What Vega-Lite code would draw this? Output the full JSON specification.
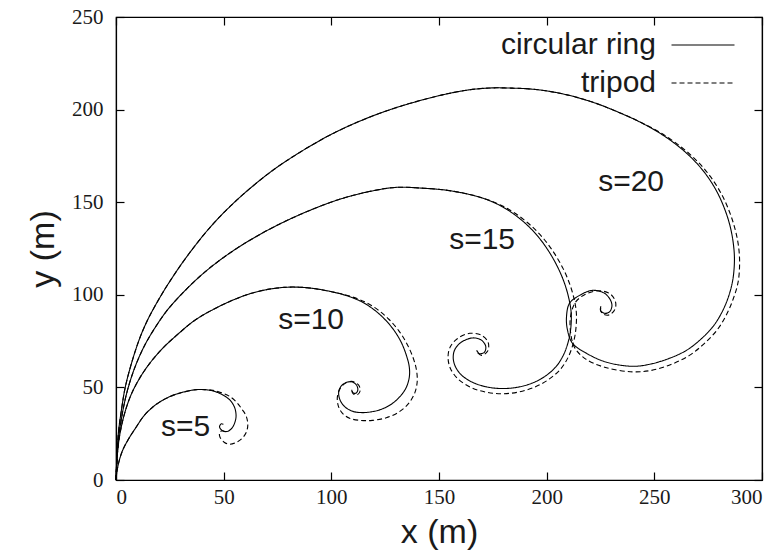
{
  "$schema": "https://vega.github.io/schema/vega-lite/v6.json",
  "width": 646,
  "height": 463,
  "autosize": {"type": "none"},
  "padding": {"left": 116, "top": 17, "right": 19, "bottom": 72},
  "background": "white",
  "config": {
    "view": {"stroke": "#000", "strokeWidth": 1.2},
    "axis": {
      "grid": false,
      "domainColor": "#000",
      "domainWidth": 1.2,
      "tickColor": "#000",
      "tickWidth": 1.2,
      "labelFont": "Liberation Serif",
      "labelFontSize": 21,
      "labelColor": "#1a1a1a",
      "titleFont": "Liberation Sans",
      "titleFontSize": 34,
      "titleFontWeight": "normal",
      "titleColor": "#1a1a1a"
    }
  },
  "resolve": {"axis": {"x": "independent", "y": "independent"}},
  "layer": [
    {
      "data": {
        "values": [
          {"curve": "s20r", "type": "circular ring", "x": 0, "y": 0},
          {"curve": "s20r", "type": "circular ring", "x": 1.0, "y": 24.1},
          {"curve": "s20r", "type": "circular ring", "x": 2.5, "y": 37.6},
          {"curve": "s20r", "type": "circular ring", "x": 4.3, "y": 50.1},
          {"curve": "s20r", "type": "circular ring", "x": 7.6, "y": 64.6},
          {"curve": "s20r", "type": "circular ring", "x": 11.2, "y": 77.1},
          {"curve": "s20r", "type": "circular ring", "x": 14.6, "y": 86.2},
          {"curve": "s20r", "type": "circular ring", "x": 19.6, "y": 97.0},
          {"curve": "s20r", "type": "circular ring", "x": 25.3, "y": 107.8},
          {"curve": "s20r", "type": "circular ring", "x": 33.0, "y": 120.8},
          {"curve": "s20r", "type": "circular ring", "x": 43.8, "y": 136.6},
          {"curve": "s20r", "type": "circular ring", "x": 53.5, "y": 148.3},
          {"curve": "s20r", "type": "circular ring", "x": 63.0, "y": 158.2},
          {"curve": "s20r", "type": "circular ring", "x": 73.5, "y": 167.8},
          {"curve": "s20r", "type": "circular ring", "x": 84.5, "y": 176.3},
          {"curve": "s20r", "type": "circular ring", "x": 96.5, "y": 184.5},
          {"curve": "s20r", "type": "circular ring", "x": 107.0, "y": 190.6},
          {"curve": "s20r", "type": "circular ring", "x": 118.8, "y": 196.4},
          {"curve": "s20r", "type": "circular ring", "x": 131.0, "y": 201.4},
          {"curve": "s20r", "type": "circular ring", "x": 143.5, "y": 205.6},
          {"curve": "s20r", "type": "circular ring", "x": 154.5, "y": 208.7},
          {"curve": "s20r", "type": "circular ring", "x": 164.2, "y": 210.7},
          {"curve": "s20r", "type": "circular ring", "x": 174.1, "y": 211.7},
          {"curve": "s20r", "type": "circular ring", "x": 183.7, "y": 211.6},
          {"curve": "s20r", "type": "circular ring", "x": 193.7, "y": 211.0},
          {"curve": "s20r", "type": "circular ring", "x": 203.6, "y": 209.4},
          {"curve": "s20r", "type": "circular ring", "x": 213.4, "y": 206.8},
          {"curve": "s20r", "type": "circular ring", "x": 223.6, "y": 203.1},
          {"curve": "s20r", "type": "circular ring", "x": 233.1, "y": 198.7},
          {"curve": "s20r", "type": "circular ring", "x": 243.1, "y": 193.4},
          {"curve": "s20r", "type": "circular ring", "x": 252.8, "y": 187.1},
          {"curve": "s20r", "type": "circular ring", "x": 261.7, "y": 179.7},
          {"curve": "s20r", "type": "circular ring", "x": 268.5, "y": 172.5},
          {"curve": "s20r", "type": "circular ring", "x": 274.3, "y": 164.5},
          {"curve": "s20r", "type": "circular ring", "x": 279.0, "y": 155.8},
          {"curve": "s20r", "type": "circular ring", "x": 282.6, "y": 146.5},
          {"curve": "s20r", "type": "circular ring", "x": 285.2, "y": 137.0},
          {"curve": "s20r", "type": "circular ring", "x": 286.7, "y": 127.5},
          {"curve": "s20r", "type": "circular ring", "x": 287.2, "y": 118.6},
          {"curve": "s20r", "type": "circular ring", "x": 286.4, "y": 107.8},
          {"curve": "s20r", "type": "circular ring", "x": 284.3, "y": 98.5},
          {"curve": "s20r", "type": "circular ring", "x": 281.1, "y": 89.9},
          {"curve": "s20r", "type": "circular ring", "x": 277.0, "y": 82.5},
          {"curve": "s20r", "type": "circular ring", "x": 271.0, "y": 75.4},
          {"curve": "s20r", "type": "circular ring", "x": 264.9, "y": 70.0},
          {"curve": "s20r", "type": "circular ring", "x": 257.0, "y": 65.7},
          {"curve": "s20r", "type": "circular ring", "x": 247.8, "y": 62.5},
          {"curve": "s20r", "type": "circular ring", "x": 239.9, "y": 61.4},
          {"curve": "s20r", "type": "circular ring", "x": 227.8, "y": 63.6},
          {"curve": "s20r", "type": "circular ring", "x": 218.5, "y": 68.4},
          {"curve": "s20r", "type": "circular ring", "x": 212.0, "y": 73.8},
          {"curve": "s20r", "type": "circular ring", "x": 209.7, "y": 80.8},
          {"curve": "s20r", "type": "circular ring", "x": 209.2, "y": 87.9},
          {"curve": "s20r", "type": "circular ring", "x": 210.6, "y": 95.4},
          {"curve": "s20r", "type": "circular ring", "x": 215.3, "y": 99.7},
          {"curve": "s20r", "type": "circular ring", "x": 221.3, "y": 102.4},
          {"curve": "s20r", "type": "circular ring", "x": 226.9, "y": 100.8},
          {"curve": "s20r", "type": "circular ring", "x": 229.7, "y": 97.0},
          {"curve": "s20r", "type": "circular ring", "x": 230.3, "y": 93.8},
          {"curve": "s20r", "type": "circular ring", "x": 229.2, "y": 90.8},
          {"curve": "s20r", "type": "circular ring", "x": 226.9, "y": 90.0},
          {"curve": "s20r", "type": "circular ring", "x": 225.0, "y": 91.6},
          {"curve": "s20r", "type": "circular ring", "x": 225.2, "y": 93.8},

          {"curve": "s20t", "type": "tripod", "x": 0, "y": 0},
          {"curve": "s20t", "type": "tripod", "x": 1.0, "y": 24.1},
          {"curve": "s20t", "type": "tripod", "x": 2.5, "y": 37.6},
          {"curve": "s20t", "type": "tripod", "x": 4.3, "y": 50.1},
          {"curve": "s20t", "type": "tripod", "x": 7.6, "y": 64.6},
          {"curve": "s20t", "type": "tripod", "x": 11.2, "y": 77.1},
          {"curve": "s20t", "type": "tripod", "x": 14.6, "y": 86.2},
          {"curve": "s20t", "type": "tripod", "x": 19.6, "y": 97.0},
          {"curve": "s20t", "type": "tripod", "x": 25.3, "y": 107.8},
          {"curve": "s20t", "type": "tripod", "x": 33.0, "y": 120.8},
          {"curve": "s20t", "type": "tripod", "x": 43.8, "y": 136.6},
          {"curve": "s20t", "type": "tripod", "x": 53.5, "y": 148.3},
          {"curve": "s20t", "type": "tripod", "x": 63.0, "y": 158.2},
          {"curve": "s20t", "type": "tripod", "x": 73.5, "y": 167.8},
          {"curve": "s20t", "type": "tripod", "x": 84.5, "y": 176.3},
          {"curve": "s20t", "type": "tripod", "x": 96.5, "y": 184.5},
          {"curve": "s20t", "type": "tripod", "x": 107.0, "y": 190.6},
          {"curve": "s20t", "type": "tripod", "x": 118.8, "y": 196.4},
          {"curve": "s20t", "type": "tripod", "x": 131.0, "y": 201.4},
          {"curve": "s20t", "type": "tripod", "x": 143.5, "y": 205.6},
          {"curve": "s20t", "type": "tripod", "x": 154.5, "y": 208.7},
          {"curve": "s20t", "type": "tripod", "x": 164.2, "y": 210.7},
          {"curve": "s20t", "type": "tripod", "x": 174.1, "y": 211.7},
          {"curve": "s20t", "type": "tripod", "x": 183.7, "y": 211.6},
          {"curve": "s20t", "type": "tripod", "x": 193.7, "y": 211.0},
          {"curve": "s20t", "type": "tripod", "x": 203.6, "y": 209.4},
          {"curve": "s20t", "type": "tripod", "x": 213.4, "y": 206.8},
          {"curve": "s20t", "type": "tripod", "x": 223.6, "y": 203.1},
          {"curve": "s20t", "type": "tripod", "x": 233.1, "y": 198.7},
          {"curve": "s20t", "type": "tripod", "x": 243.3, "y": 193.4},
          {"curve": "s20t", "type": "tripod", "x": 253.3, "y": 187.2},
          {"curve": "s20t", "type": "tripod", "x": 262.6, "y": 179.7},
          {"curve": "s20t", "type": "tripod", "x": 269.8, "y": 172.3},
          {"curve": "s20t", "type": "tripod", "x": 275.8, "y": 164.2},
          {"curve": "s20t", "type": "tripod", "x": 280.7, "y": 155.4},
          {"curve": "s20t", "type": "tripod", "x": 284.5, "y": 146.0},
          {"curve": "s20t", "type": "tripod", "x": 287.3, "y": 136.3},
          {"curve": "s20t", "type": "tripod", "x": 289.0, "y": 127.0},
          {"curve": "s20t", "type": "tripod", "x": 289.6, "y": 117.6},
          {"curve": "s20t", "type": "tripod", "x": 288.9, "y": 106.8},
          {"curve": "s20t", "type": "tripod", "x": 286.7, "y": 98.0},
          {"curve": "s20t", "type": "tripod", "x": 283.6, "y": 89.5},
          {"curve": "s20t", "type": "tripod", "x": 279.4, "y": 81.4},
          {"curve": "s20t", "type": "tripod", "x": 273.3, "y": 73.8},
          {"curve": "s20t", "type": "tripod", "x": 266.3, "y": 67.3},
          {"curve": "s20t", "type": "tripod", "x": 258.0, "y": 62.5},
          {"curve": "s20t", "type": "tripod", "x": 248.7, "y": 59.2},
          {"curve": "s20t", "type": "tripod", "x": 239.9, "y": 58.4},
          {"curve": "s20t", "type": "tripod", "x": 226.9, "y": 60.9},
          {"curve": "s20t", "type": "tripod", "x": 217.6, "y": 65.7},
          {"curve": "s20t", "type": "tripod", "x": 212.9, "y": 71.7},
          {"curve": "s20t", "type": "tripod", "x": 211.1, "y": 79.8},
          {"curve": "s20t", "type": "tripod", "x": 211.1, "y": 88.4},
          {"curve": "s20t", "type": "tripod", "x": 213.4, "y": 96.0},
          {"curve": "s20t", "type": "tripod", "x": 218.0, "y": 100.3},
          {"curve": "s20t", "type": "tripod", "x": 224.5, "y": 102.2},
          {"curve": "s20t", "type": "tripod", "x": 229.7, "y": 100.3},
          {"curve": "s20t", "type": "tripod", "x": 232.0, "y": 96.0},
          {"curve": "s20t", "type": "tripod", "x": 231.7, "y": 92.2},
          {"curve": "s20t", "type": "tripod", "x": 229.2, "y": 89.2},
          {"curve": "s20t", "type": "tripod", "x": 226.4, "y": 89.5},
          {"curve": "s20t", "type": "tripod", "x": 225.0, "y": 91.6},
          {"curve": "s20t", "type": "tripod", "x": 225.5, "y": 93.5},

          {"curve": "s15r", "type": "circular ring", "x": 0, "y": 0},
          {"curve": "s15r", "type": "circular ring", "x": 1, "y": 20},
          {"curve": "s15r", "type": "circular ring", "x": 2.5, "y": 33},
          {"curve": "s15r", "type": "circular ring", "x": 5, "y": 47},
          {"curve": "s15r", "type": "circular ring", "x": 8.5, "y": 60},
          {"curve": "s15r", "type": "circular ring", "x": 13, "y": 72},
          {"curve": "s15r", "type": "circular ring", "x": 18, "y": 82},
          {"curve": "s15r", "type": "circular ring", "x": 24, "y": 92},
          {"curve": "s15r", "type": "circular ring", "x": 31, "y": 101},
          {"curve": "s15r", "type": "circular ring", "x": 39, "y": 110},
          {"curve": "s15r", "type": "circular ring", "x": 48, "y": 118.5},
          {"curve": "s15r", "type": "circular ring", "x": 58, "y": 126.5},
          {"curve": "s15r", "type": "circular ring", "x": 69, "y": 134},
          {"curve": "s15r", "type": "circular ring", "x": 81, "y": 141},
          {"curve": "s15r", "type": "circular ring", "x": 93, "y": 147},
          {"curve": "s15r", "type": "circular ring", "x": 105, "y": 152},
          {"curve": "s15r", "type": "circular ring", "x": 117, "y": 155.6},
          {"curve": "s15r", "type": "circular ring", "x": 130, "y": 158},
          {"curve": "s15r", "type": "circular ring", "x": 142, "y": 157.6},
          {"curve": "s15r", "type": "circular ring", "x": 153.9, "y": 156.4},
          {"curve": "s15r", "type": "circular ring", "x": 164, "y": 154.2},
          {"curve": "s15r", "type": "circular ring", "x": 172, "y": 151.5},
          {"curve": "s15r", "type": "circular ring", "x": 179.5, "y": 147.5},
          {"curve": "s15r", "type": "circular ring", "x": 186, "y": 142.5},
          {"curve": "s15r", "type": "circular ring", "x": 192, "y": 136.5},
          {"curve": "s15r", "type": "circular ring", "x": 197, "y": 130},
          {"curve": "s15r", "type": "circular ring", "x": 201.5, "y": 122.5},
          {"curve": "s15r", "type": "circular ring", "x": 205.5, "y": 114},
          {"curve": "s15r", "type": "circular ring", "x": 208.5, "y": 105.5},
          {"curve": "s15r", "type": "circular ring", "x": 210.5, "y": 97},
          {"curve": "s15r", "type": "circular ring", "x": 211.4, "y": 90},
          {"curve": "s15r", "type": "circular ring", "x": 211.2, "y": 82},
          {"curve": "s15r", "type": "circular ring", "x": 210.2, "y": 75.4},
          {"curve": "s15r", "type": "circular ring", "x": 207.8, "y": 67.5},
          {"curve": "s15r", "type": "circular ring", "x": 204.2, "y": 61},
          {"curve": "s15r", "type": "circular ring", "x": 199, "y": 55.8},
          {"curve": "s15r", "type": "circular ring", "x": 193, "y": 52.2},
          {"curve": "s15r", "type": "circular ring", "x": 186, "y": 50},
          {"curve": "s15r", "type": "circular ring", "x": 179, "y": 49.4},
          {"curve": "s15r", "type": "circular ring", "x": 172, "y": 50.3},
          {"curve": "s15r", "type": "circular ring", "x": 165.5, "y": 52.8},
          {"curve": "s15r", "type": "circular ring", "x": 160.3, "y": 56.8},
          {"curve": "s15r", "type": "circular ring", "x": 157.4, "y": 61.8},
          {"curve": "s15r", "type": "circular ring", "x": 156.6, "y": 66.5},
          {"curve": "s15r", "type": "circular ring", "x": 157.5, "y": 70.8},
          {"curve": "s15r", "type": "circular ring", "x": 160.5, "y": 74.5},
          {"curve": "s15r", "type": "circular ring", "x": 165.5, "y": 76.7},
          {"curve": "s15r", "type": "circular ring", "x": 169.6, "y": 75.6},
          {"curve": "s15r", "type": "circular ring", "x": 171.7, "y": 72.2},
          {"curve": "s15r", "type": "circular ring", "x": 171.1, "y": 69},
          {"curve": "s15r", "type": "circular ring", "x": 168.8, "y": 68.2},
          {"curve": "s15r", "type": "circular ring", "x": 167.5, "y": 70.0},

          {"curve": "s15t", "type": "tripod", "x": 0, "y": 0},
          {"curve": "s15t", "type": "tripod", "x": 1, "y": 20},
          {"curve": "s15t", "type": "tripod", "x": 2.5, "y": 33},
          {"curve": "s15t", "type": "tripod", "x": 5, "y": 47},
          {"curve": "s15t", "type": "tripod", "x": 8.5, "y": 60},
          {"curve": "s15t", "type": "tripod", "x": 13, "y": 72},
          {"curve": "s15t", "type": "tripod", "x": 18, "y": 82},
          {"curve": "s15t", "type": "tripod", "x": 24, "y": 92},
          {"curve": "s15t", "type": "tripod", "x": 31, "y": 101},
          {"curve": "s15t", "type": "tripod", "x": 39, "y": 110},
          {"curve": "s15t", "type": "tripod", "x": 48, "y": 118.5},
          {"curve": "s15t", "type": "tripod", "x": 58, "y": 126.5},
          {"curve": "s15t", "type": "tripod", "x": 69, "y": 134},
          {"curve": "s15t", "type": "tripod", "x": 81, "y": 141},
          {"curve": "s15t", "type": "tripod", "x": 93, "y": 147},
          {"curve": "s15t", "type": "tripod", "x": 105, "y": 152},
          {"curve": "s15t", "type": "tripod", "x": 117, "y": 155.6},
          {"curve": "s15t", "type": "tripod", "x": 130, "y": 158},
          {"curve": "s15t", "type": "tripod", "x": 142, "y": 157.6},
          {"curve": "s15t", "type": "tripod", "x": 153.9, "y": 156.4},
          {"curve": "s15t", "type": "tripod", "x": 164.2, "y": 154.2},
          {"curve": "s15t", "type": "tripod", "x": 172.3, "y": 151.5},
          {"curve": "s15t", "type": "tripod", "x": 180.3, "y": 147.5},
          {"curve": "s15t", "type": "tripod", "x": 187.2, "y": 142.5},
          {"curve": "s15t", "type": "tripod", "x": 193.5, "y": 136.5},
          {"curve": "s15t", "type": "tripod", "x": 198.8, "y": 130},
          {"curve": "s15t", "type": "tripod", "x": 203.5, "y": 122.5},
          {"curve": "s15t", "type": "tripod", "x": 207.7, "y": 114},
          {"curve": "s15t", "type": "tripod", "x": 210.8, "y": 105.5},
          {"curve": "s15t", "type": "tripod", "x": 212.9, "y": 97},
          {"curve": "s15t", "type": "tripod", "x": 213.8, "y": 90},
          {"curve": "s15t", "type": "tripod", "x": 213.6, "y": 82},
          {"curve": "s15t", "type": "tripod", "x": 212.6, "y": 75},
          {"curve": "s15t", "type": "tripod", "x": 210.2, "y": 66.8},
          {"curve": "s15t", "type": "tripod", "x": 206.4, "y": 59.8},
          {"curve": "s15t", "type": "tripod", "x": 200.8, "y": 54.2},
          {"curve": "s15t", "type": "tripod", "x": 194.5, "y": 50.2},
          {"curve": "s15t", "type": "tripod", "x": 187, "y": 47.5},
          {"curve": "s15t", "type": "tripod", "x": 179.5, "y": 46.6},
          {"curve": "s15t", "type": "tripod", "x": 172, "y": 47.4},
          {"curve": "s15t", "type": "tripod", "x": 164.8, "y": 50},
          {"curve": "s15t", "type": "tripod", "x": 158.8, "y": 54.6},
          {"curve": "s15t", "type": "tripod", "x": 155.2, "y": 60.5},
          {"curve": "s15t", "type": "tripod", "x": 154.2, "y": 66.5},
          {"curve": "s15t", "type": "tripod", "x": 155.2, "y": 71.8},
          {"curve": "s15t", "type": "tripod", "x": 158.5, "y": 76.3},
          {"curve": "s15t", "type": "tripod", "x": 164.3, "y": 79.2},
          {"curve": "s15t", "type": "tripod", "x": 169.6, "y": 78.2},
          {"curve": "s15t", "type": "tripod", "x": 172.8, "y": 74.4},
          {"curve": "s15t", "type": "tripod", "x": 172.6, "y": 69.6},
          {"curve": "s15t", "type": "tripod", "x": 169.8, "y": 67.3},
          {"curve": "s15t", "type": "tripod", "x": 167.5, "y": 69.2},

          {"curve": "s10r", "type": "circular ring", "x": 0, "y": 0},
          {"curve": "s10r", "type": "circular ring", "x": 0.8, "y": 16},
          {"curve": "s10r", "type": "circular ring", "x": 2, "y": 26},
          {"curve": "s10r", "type": "circular ring", "x": 4, "y": 36},
          {"curve": "s10r", "type": "circular ring", "x": 7, "y": 46},
          {"curve": "s10r", "type": "circular ring", "x": 11, "y": 55},
          {"curve": "s10r", "type": "circular ring", "x": 16, "y": 63.5},
          {"curve": "s10r", "type": "circular ring", "x": 22, "y": 71.5},
          {"curve": "s10r", "type": "circular ring", "x": 29, "y": 79},
          {"curve": "s10r", "type": "circular ring", "x": 36.3, "y": 86},
          {"curve": "s10r", "type": "circular ring", "x": 45, "y": 92},
          {"curve": "s10r", "type": "circular ring", "x": 54, "y": 97},
          {"curve": "s10r", "type": "circular ring", "x": 62, "y": 100.5},
          {"curve": "s10r", "type": "circular ring", "x": 70, "y": 102.8},
          {"curve": "s10r", "type": "circular ring", "x": 78, "y": 104},
          {"curve": "s10r", "type": "circular ring", "x": 85.2, "y": 104.1},
          {"curve": "s10r", "type": "circular ring", "x": 93, "y": 103.2},
          {"curve": "s10r", "type": "circular ring", "x": 100.7, "y": 101.5},
          {"curve": "s10r", "type": "circular ring", "x": 108, "y": 99.2},
          {"curve": "s10r", "type": "circular ring", "x": 114.5, "y": 96},
          {"curve": "s10r", "type": "circular ring", "x": 120, "y": 91.8},
          {"curve": "s10r", "type": "circular ring", "x": 124.8, "y": 86.8},
          {"curve": "s10r", "type": "circular ring", "x": 129, "y": 81},
          {"curve": "s10r", "type": "circular ring", "x": 132.4, "y": 74.5},
          {"curve": "s10r", "type": "circular ring", "x": 134.8, "y": 67.5},
          {"curve": "s10r", "type": "circular ring", "x": 136.2, "y": 61},
          {"curve": "s10r", "type": "circular ring", "x": 136.2, "y": 55.5},
          {"curve": "s10r", "type": "circular ring", "x": 134.8, "y": 50},
          {"curve": "s10r", "type": "circular ring", "x": 132, "y": 45.2},
          {"curve": "s10r", "type": "circular ring", "x": 128.2, "y": 41.2},
          {"curve": "s10r", "type": "circular ring", "x": 123.5, "y": 38.3},
          {"curve": "s10r", "type": "circular ring", "x": 118.5, "y": 36.8},
          {"curve": "s10r", "type": "circular ring", "x": 114.6, "y": 36.4},
          {"curve": "s10r", "type": "circular ring", "x": 110.5, "y": 36.9},
          {"curve": "s10r", "type": "circular ring", "x": 106.8, "y": 39},
          {"curve": "s10r", "type": "circular ring", "x": 104.2, "y": 42.8},
          {"curve": "s10r", "type": "circular ring", "x": 103.4, "y": 47.2},
          {"curve": "s10r", "type": "circular ring", "x": 104.5, "y": 50.6},
          {"curve": "s10r", "type": "circular ring", "x": 106.8, "y": 52.6},
          {"curve": "s10r", "type": "circular ring", "x": 109.5, "y": 53},
          {"curve": "s10r", "type": "circular ring", "x": 111.6, "y": 51.4},
          {"curve": "s10r", "type": "circular ring", "x": 112.3, "y": 48.6},
          {"curve": "s10r", "type": "circular ring", "x": 111.3, "y": 46.8},
          {"curve": "s10r", "type": "circular ring", "x": 109.8, "y": 47.3},
          {"curve": "s10r", "type": "circular ring", "x": 109.5, "y": 48.7},

          {"curve": "s10t", "type": "tripod", "x": 0, "y": 0},
          {"curve": "s10t", "type": "tripod", "x": 0.8, "y": 16},
          {"curve": "s10t", "type": "tripod", "x": 2, "y": 26},
          {"curve": "s10t", "type": "tripod", "x": 4, "y": 36},
          {"curve": "s10t", "type": "tripod", "x": 7, "y": 46},
          {"curve": "s10t", "type": "tripod", "x": 11, "y": 55},
          {"curve": "s10t", "type": "tripod", "x": 16, "y": 63.5},
          {"curve": "s10t", "type": "tripod", "x": 22, "y": 71.5},
          {"curve": "s10t", "type": "tripod", "x": 29, "y": 79},
          {"curve": "s10t", "type": "tripod", "x": 36.3, "y": 86},
          {"curve": "s10t", "type": "tripod", "x": 45, "y": 92},
          {"curve": "s10t", "type": "tripod", "x": 54, "y": 97},
          {"curve": "s10t", "type": "tripod", "x": 62, "y": 100.5},
          {"curve": "s10t", "type": "tripod", "x": 70, "y": 102.8},
          {"curve": "s10t", "type": "tripod", "x": 78, "y": 104},
          {"curve": "s10t", "type": "tripod", "x": 85.2, "y": 104.1},
          {"curve": "s10t", "type": "tripod", "x": 93, "y": 103.2},
          {"curve": "s10t", "type": "tripod", "x": 100.7, "y": 101.5},
          {"curve": "s10t", "type": "tripod", "x": 108.5, "y": 99.3},
          {"curve": "s10t", "type": "tripod", "x": 115.5, "y": 96.2},
          {"curve": "s10t", "type": "tripod", "x": 121.5, "y": 92},
          {"curve": "s10t", "type": "tripod", "x": 126.7, "y": 86.8},
          {"curve": "s10t", "type": "tripod", "x": 131.2, "y": 80.8},
          {"curve": "s10t", "type": "tripod", "x": 134.8, "y": 74.2},
          {"curve": "s10t", "type": "tripod", "x": 137.6, "y": 67.2},
          {"curve": "s10t", "type": "tripod", "x": 139.4, "y": 60.2},
          {"curve": "s10t", "type": "tripod", "x": 139.9, "y": 53.5},
          {"curve": "s10t", "type": "tripod", "x": 138.8, "y": 47.2},
          {"curve": "s10t", "type": "tripod", "x": 136, "y": 41.5},
          {"curve": "s10t", "type": "tripod", "x": 131.5, "y": 36.8},
          {"curve": "s10t", "type": "tripod", "x": 125.5, "y": 33.6},
          {"curve": "s10t", "type": "tripod", "x": 119, "y": 32.2},
          {"curve": "s10t", "type": "tripod", "x": 113.5, "y": 32.2},
          {"curve": "s10t", "type": "tripod", "x": 108.5, "y": 33.3},
          {"curve": "s10t", "type": "tripod", "x": 105, "y": 36.2},
          {"curve": "s10t", "type": "tripod", "x": 103.2, "y": 40.2},
          {"curve": "s10t", "type": "tripod", "x": 102.8, "y": 44.8},
          {"curve": "s10t", "type": "tripod", "x": 104, "y": 49.2},
          {"curve": "s10t", "type": "tripod", "x": 106.6, "y": 52.3},
          {"curve": "s10t", "type": "tripod", "x": 110, "y": 53.2},
          {"curve": "s10t", "type": "tripod", "x": 112.7, "y": 51.2},
          {"curve": "s10t", "type": "tripod", "x": 113.4, "y": 48.2},
          {"curve": "s10t", "type": "tripod", "x": 112, "y": 46},
          {"curve": "s10t", "type": "tripod", "x": 110.2, "y": 46.5},
          {"curve": "s10t", "type": "tripod", "x": 109.7, "y": 48},

          {"curve": "s5r", "type": "circular ring", "x": 0, "y": 0},
          {"curve": "s5r", "type": "circular ring", "x": 0.5, "y": 5},
          {"curve": "s5r", "type": "circular ring", "x": 1.4, "y": 10},
          {"curve": "s5r", "type": "circular ring", "x": 2.9, "y": 15.5},
          {"curve": "s5r", "type": "circular ring", "x": 5.5, "y": 21.5},
          {"curve": "s5r", "type": "circular ring", "x": 9.4, "y": 28.6},
          {"curve": "s5r", "type": "circular ring", "x": 12.8, "y": 34.4},
          {"curve": "s5r", "type": "circular ring", "x": 17.1, "y": 39.4},
          {"curve": "s5r", "type": "circular ring", "x": 21.6, "y": 43.0},
          {"curve": "s5r", "type": "circular ring", "x": 26.4, "y": 45.7},
          {"curve": "s5r", "type": "circular ring", "x": 31.8, "y": 47.6},
          {"curve": "s5r", "type": "circular ring", "x": 37.2, "y": 48.8},
          {"curve": "s5r", "type": "circular ring", "x": 41.1, "y": 48.8},
          {"curve": "s5r", "type": "circular ring", "x": 45.0, "y": 48.1},
          {"curve": "s5r", "type": "circular ring", "x": 48.1, "y": 46.8},
          {"curve": "s5r", "type": "circular ring", "x": 51.2, "y": 44.8},
          {"curve": "s5r", "type": "circular ring", "x": 53.4, "y": 42.5},
          {"curve": "s5r", "type": "circular ring", "x": 55.0, "y": 39.4},
          {"curve": "s5r", "type": "circular ring", "x": 55.7, "y": 36.0},
          {"curve": "s5r", "type": "circular ring", "x": 55.6, "y": 32.8},
          {"curve": "s5r", "type": "circular ring", "x": 54.2, "y": 28.6},
          {"curve": "s5r", "type": "circular ring", "x": 51.9, "y": 26.3},
          {"curve": "s5r", "type": "circular ring", "x": 49.6, "y": 26.5},
          {"curve": "s5r", "type": "circular ring", "x": 48.1, "y": 28.6},
          {"curve": "s5r", "type": "circular ring", "x": 48.8, "y": 30.3},
          {"curve": "s5r", "type": "circular ring", "x": 49.9, "y": 30.1},

          {"curve": "s5t", "type": "tripod", "x": 0, "y": 0},
          {"curve": "s5t", "type": "tripod", "x": 0.5, "y": 5},
          {"curve": "s5t", "type": "tripod", "x": 1.4, "y": 10},
          {"curve": "s5t", "type": "tripod", "x": 2.9, "y": 15.5},
          {"curve": "s5t", "type": "tripod", "x": 5.5, "y": 21.5},
          {"curve": "s5t", "type": "tripod", "x": 9.4, "y": 28.6},
          {"curve": "s5t", "type": "tripod", "x": 12.8, "y": 34.4},
          {"curve": "s5t", "type": "tripod", "x": 17.1, "y": 39.4},
          {"curve": "s5t", "type": "tripod", "x": 21.6, "y": 43.0},
          {"curve": "s5t", "type": "tripod", "x": 26.4, "y": 45.7},
          {"curve": "s5t", "type": "tripod", "x": 31.8, "y": 47.6},
          {"curve": "s5t", "type": "tripod", "x": 37.2, "y": 48.8},
          {"curve": "s5t", "type": "tripod", "x": 41.1, "y": 48.8},
          {"curve": "s5t", "type": "tripod", "x": 45.0, "y": 48.4},
          {"curve": "s5t", "type": "tripod", "x": 49.0, "y": 47.1},
          {"curve": "s5t", "type": "tripod", "x": 52.7, "y": 45.2},
          {"curve": "s5t", "type": "tripod", "x": 56.0, "y": 42.0},
          {"curve": "s5t", "type": "tripod", "x": 58.5, "y": 38.2},
          {"curve": "s5t", "type": "tripod", "x": 60.5, "y": 34.4},
          {"curve": "s5t", "type": "tripod", "x": 61.2, "y": 29.5},
          {"curve": "s5t", "type": "tripod", "x": 60.4, "y": 25.5},
          {"curve": "s5t", "type": "tripod", "x": 58.3, "y": 22.2},
          {"curve": "s5t", "type": "tripod", "x": 55.5, "y": 20.1},
          {"curve": "s5t", "type": "tripod", "x": 52.7, "y": 19.3},
          {"curve": "s5t", "type": "tripod", "x": 50.2, "y": 20.4},
          {"curve": "s5t", "type": "tripod", "x": 48.3, "y": 23.1},
          {"curve": "s5t", "type": "tripod", "x": 48.1, "y": 25.5},
          {"curve": "s5t", "type": "tripod", "x": 49.2, "y": 26.6},
          {"curve": "s5t", "type": "tripod", "x": 50.6, "y": 26.0},
          {"curve": "s5t", "type": "tripod", "x": 50.9, "y": 24.7}
        ]
      },
      "mark": {"type": "line", "interpolate": "catmull-rom", "strokeWidth": 1.1, "color": "#000"},
      "encoding": {
        "x": {
          "field": "x", "type": "quantitative",
          "scale": {"domain": [0, 300], "nice": false, "zero": false},
          "axis": {"orient": "bottom", "values": [0, 50, 100, 150, 200, 250, 300], "tickSize": -8, "labelPadding": 14, "title": "x (m)", "titlePadding": 8}
        },
        "y": {
          "field": "y", "type": "quantitative",
          "scale": {"domain": [0, 250], "nice": false, "zero": false},
          "axis": {"orient": "left", "values": [0, 50, 100, 150, 200, 250], "tickSize": -8, "labelPadding": 21, "title": "y (m)", "titlePadding": 11}
        },
        "detail": {"field": "curve"},
        "order": {"value": null},
        "strokeDash": {
          "field": "type", "type": "nominal",
          "scale": {"domain": ["circular ring", "tripod"], "range": [[1, 0], [5, 3]]},
          "legend": {
            "title": null, "orient": "none", "legendX": 572, "legendY": 13,
            "symbolType": "M-4,0H4", "symbolSize": 248, "symbolStrokeWidth": 1.1, "symbolStrokeColor": "#000", "symbolFillColor": "transparent", "symbolOpacity": 1,
            "labelFont": "Liberation Sans", "labelFontSize": 30, "labelColor": "#1a1a1a",
            "labelAlign": "right", "labelOffset": -62, "labelLimit": 0,
            "rowPadding": 8
          }
        }
      }
    },
    {
      "data": {
        "values": [
          {"label": "s=5", "x": 32.3, "y": 28.5},
          {"label": "s=10", "x": 90.6, "y": 86.2},
          {"label": "s=15", "x": 170.0, "y": 129.6},
          {"label": "s=20", "x": 239.2, "y": 160.7}
        ]
      },
      "mark": {"type": "text", "font": "Liberation Sans", "fontSize": 30, "color": "#1a1a1a", "align": "center", "baseline": "middle"},
      "encoding": {
        "x": {
          "field": "x", "type": "quantitative",
          "scale": {"domain": [0, 300], "nice": false, "zero": false},
          "axis": {"orient": "top", "values": [0, 50, 100, 150, 200, 250, 300], "tickSize": -8, "labels": false, "title": null}
        },
        "y": {
          "field": "y", "type": "quantitative",
          "scale": {"domain": [0, 250], "nice": false, "zero": false},
          "axis": {"orient": "right", "values": [0, 50, 100, 150, 200, 250], "tickSize": -8, "labels": false, "title": null}
        },
        "text": {"field": "label"}
      }
    }
  ]
}
